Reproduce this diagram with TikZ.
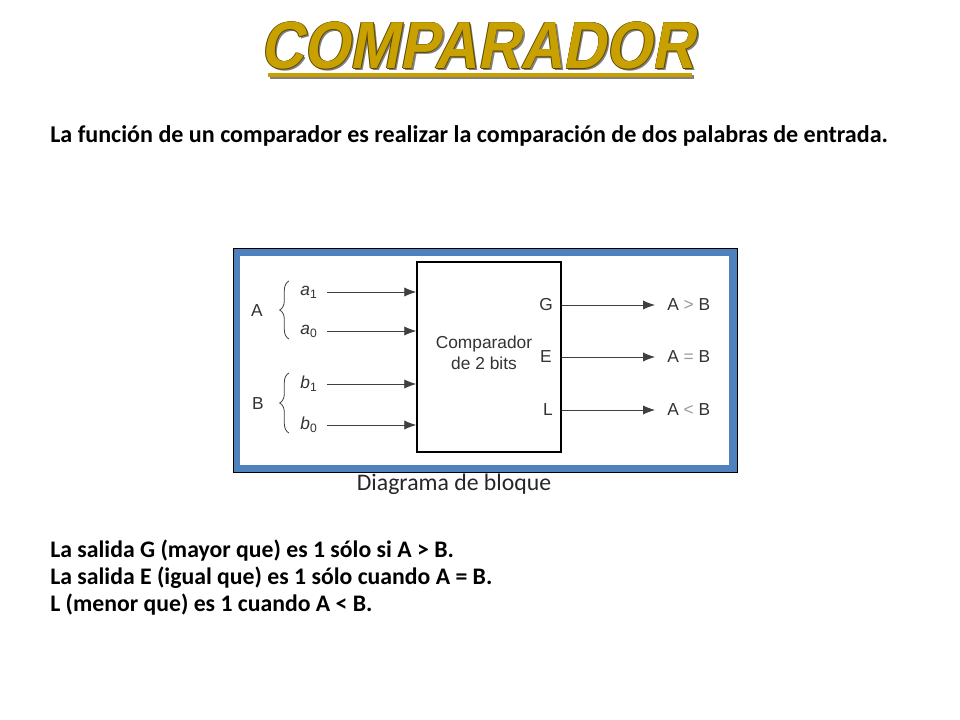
\documentclass[tikz,border=0pt]{standalone}
\usepackage{fontspec}
\setmainfont{Carlito}
\newfontfamily\arialfont{Liberation Sans}
\usetikzlibrary{positioning,arrows.meta,decorations.pathreplacing}
\definecolor{titlegold}{RGB}{200,160,0}
\definecolor{titleedge}{RGB}{90,70,0}
\definecolor{framblue}{RGB}{79,129,189}

\begin{document}
\begin{tikzpicture}[x=0.75pt,y=-0.75pt,
      every node/.style={inner sep=0pt},
      ttl/.style={font=\arialfont\bfseries\fontsize{50}{56}\selectfont,xscale=0.89,xslant=0.21},
      body/.style={font=\bfseries\fontsize{17.8}{21}\selectfont,anchor=west},
      lbl/.style={font=\arialfont\fontsize{13}{15.5}\selectfont,text=black!80},
      sig/.style={draw=black!75,line width=0.7pt,-{Latex[length=9pt,width=7pt]}},
      brc/.style={draw=black!75,line width=0.6pt,decorate,decoration={brace,amplitude=7pt,mirror}}]
    \useasboundingbox (0,0) rectangle (960,720);
    % title: shadow, edge, face
    \node[ttl,text=black!50] at (484,48) {COMPARADOR};
    \foreach \dx/\dy in {-0.8/0,0.8/0,0/-0.8,0/0.8}
      \node[ttl,text=titleedge] at (482+\dx,46+\dy) {COMPARADOR};
    \node (title) [ttl,text=titlegold] at (482,46) {COMPARADOR};
    \draw[black!50,line width=2.4pt] (270,77) -- (694,77);
    \draw[titlegold,line width=2.4pt] (268,75) -- (692,75);
    \node (intro) [body,font=\bfseries\fontsize{18.05}{21}\selectfont] at (50,136) {La función de un comparador es realizar la comparación de dos palabras de entrada.};
    % frame
    \draw[fill=framblue,draw=black,line width=0.6pt] (233,248) rectangle (737,472);
    \fill[white] (240,256) rectangle (729,465);
    % block
    \node (comp) [draw=black,line width=1.1pt,minimum width=108pt,minimum height=142.5pt] at (489,357) {};
    \node (name) [lbl,align=center] at (484,353) {Comparador\\de 2 bits};
    % inputs
    \node (a1) [lbl] at (309,292) {\textit{a}\textsubscript{1}};
    \node (a0) [lbl] at (309,331) {\textit{a}\textsubscript{0}};
    \node (b1) [lbl] at (309,384) {\textit{b}\textsubscript{1}};
    \node (b0) [lbl] at (309,425) {\textit{b}\textsubscript{0}};
    \node (A) [lbl] at (257,311) {A};
    \node (B) [lbl] at (258,404) {B};
    \draw[brc] (289,281) -- (289,339);
    \draw[brc] (289,373) -- (289,433);
    \foreach \n in {a1,a0,b1,b0}
      \draw[sig] (\n.east |- 0,0) ++(9,0) coordinate (s) (s |- \n) -- (\n -| comp.west);
    % outputs
    \node (G) [lbl] at (546,305) {G};
    \node (E) [lbl] at (546,357) {E};
    \node (L) [lbl] at (548,410) {L};
    \node (gt) [lbl,anchor=west] at (667,305) {A {\color{black!40}>} B};
    \node (eq) [lbl,anchor=west] at (667,357) {A {\color{black!40}=} B};
    \node (lt) [lbl,anchor=west] at (667,410) {A {\color{black!40}<} B};
    \draw[sig,shorten >=9pt] (G -| comp.east) -- (gt.west);
    \draw[sig,shorten >=9pt] (E -| comp.east) -- (eq.west);
    \draw[sig,shorten >=9pt] (L -| comp.east) -- (lt.west);
    \node (cap) [font=\fontsize{17.8}{21}\selectfont,text=black!85] at (454,484) {Diagrama de bloque};
    % notes
    \node (n1) [body] at (50,551) {La salida G (mayor que) es 1 sólo si A > B.};
    \node (n2) [body] at (50,578) {La salida E (igual que) es 1 sólo cuando A = B.};
    \node (n3) [body] at (50,605) {L (menor que) es 1 cuando A < B.};
  \end{tikzpicture}
\end{document}
